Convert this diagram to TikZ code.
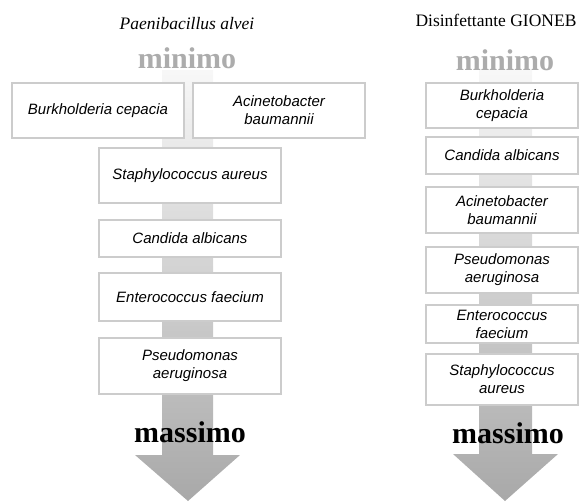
\documentclass[tikz,border=0pt]{standalone}
\usepackage{fontspec}
\setmainfont{Liberation Serif}
\setsansfont{Liberation Sans}
\begin{document}
\begin{tikzpicture}[
            x = 1pt, y = -1pt,
            box/.style = {draw = gray!40, line width = 1.5pt, fill = white, inner sep = 0pt,
                          align = center, font = \sffamily\itshape\fontsize{15}{18}\selectfont},
            title/.style = {font = \fontsize{17.5}{20}\selectfont},
            minlabel/.style = {font = \bfseries\fontsize{30}{32}\selectfont, text = gray!65},
            maxlabel/.style = {font = \bfseries\fontsize{30}{32}\selectfont, text = black},
            arrowshade/.style = {top color = gray!6, bottom color = gray!68}
            ]
            \useasboundingbox (0,0) rectangle (580,501);
            % left arrow
            \shade[arrowshade] (162,70) -- (213,70) -- (213,455) -- (240,455) -- (188,501)
                -- (135,455) -- (162,455) -- cycle;
            % right arrow
            \shade[arrowshade] (479,70) -- (532,70) -- (532,454) -- (558,454) -- (505,501)
                -- (453,454) -- (479,454) -- cycle;
            % left column
            \node[title] (titleL) at (187,24) {\itshape Paenibacillus alvei};
            \node[minlabel] (minL) at (187,58) {minimo};
            \node[box, minimum width = 172pt, minimum height = 55pt] (bcL) at (98,110.5) {Burkholderia cepacia};
            \node[box, minimum width = 172pt, minimum height = 55pt] (abL) at (279,110.5) {Acinetobacter\\ baumannii};
            \node[box, minimum width = 182pt, minimum height = 55pt] (saL) at (190,175.5) {Staphylococcus aureus};
            \node[box, minimum width = 182pt, minimum height = 37pt] (caL) at (190,238.5) {Candida albicans};
            \node[box, minimum width = 182pt, minimum height = 48pt] (efL) at (190,297) {Enterococcus faecium};
            \node[box, minimum width = 182pt, minimum height = 56pt] (paL) at (190,366) {Pseudomonas\\ aeruginosa};
            \node[maxlabel] (maxL) at (190,432) {massimo};
            % right column
            \node[title] (titleR) at (496,20) {Disinfettante GIONEB};
            \node[minlabel] (minR) at (505,60) {minimo};
            \node[box, minimum width = 152pt, minimum height = 45pt] (bcR) at (502,105.5) {Burkholderia\\ cepacia};
            \node[box, minimum width = 152pt, minimum height = 37pt] (caR) at (502,155.5) {Candida albicans};
            \node[box, minimum width = 152pt, minimum height = 46pt] (abR) at (502,210) {Acinetobacter\\ baumannii};
            \node[box, minimum width = 152pt, minimum height = 46pt] (paR) at (502,270) {Pseudomonas\\ aeruginosa};
            \node[box, minimum width = 152pt, minimum height = 38pt] (efR) at (502,324) {Enterococcus\\ faecium};
            \node[box, minimum width = 152pt, minimum height = 51pt] (saR) at (502,379.5) {Staphylococcus\\ aureus};
            \node[maxlabel] (maxR) at (508,433) {massimo};
\end{tikzpicture}
\end{document}
